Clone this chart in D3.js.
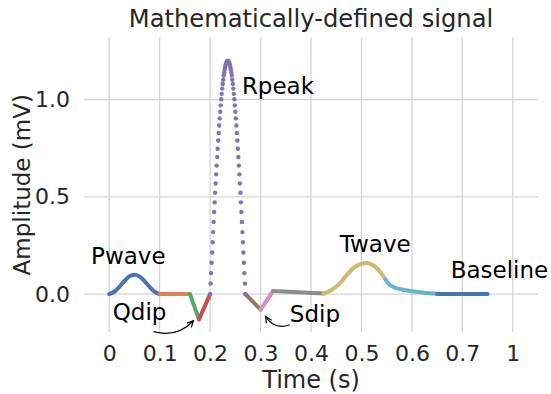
<!DOCTYPE html>
<html>
<head>
<meta charset="utf-8">
<script src="https://cdn.jsdelivr.net/npm/d3@7/dist/d3.min.js"></script>
<style>
  html, body { margin: 0; padding: 0; background: #ffffff; }
  svg { display: block; font-family: "DejaVu Sans", sans-serif; }
</style>
</head>
<body>
<svg id="chart" width="551" height="394"></svg>
<script>
// ---- Signal pieces (time in s, amplitude in mV) ----
const pWaveTime = [0, 0.01, 0.02, 0.03, 0.04, 0.05, 0.06, 0.07, 0.08, 0.09, 0.1];
const pWaveAmp  = [0, 0.012, 0.037, 0.067, 0.091, 0.1, 0.091, 0.067, 0.037, 0.012, 0];

const prTime = [0.1, 0.16];
const prAmp  = [0, 0];

const qDownTime = [0.16, 0.178];
const qDownAmp  = [0, -0.13];

const qUpTime = [0.178, 0.2];
const qUpAmp  = [-0.13, 0];

// R peak, sampled every millisecond
const rPeakTime = [
  0.200, 0.201, 0.202, 0.203, 0.204, 0.205, 0.206, 0.207, 0.208, 0.209,
  0.210, 0.211, 0.212, 0.213, 0.214, 0.215, 0.216, 0.217, 0.218, 0.219,
  0.220, 0.221, 0.222, 0.223, 0.224, 0.225, 0.226, 0.227, 0.228, 0.229,
  0.230, 0.231, 0.232, 0.233, 0.234, 0.235, 0.236, 0.237, 0.238, 0.239,
  0.240, 0.241, 0.242, 0.243, 0.244, 0.245, 0.246, 0.247, 0.248, 0.249,
  0.250, 0.251, 0.252, 0.253, 0.254, 0.255, 0.256, 0.257, 0.258, 0.259,
  0.260, 0.261, 0.262, 0.263, 0.264, 0.265, 0.266, 0.267, 0.268, 0.269,
  0.270
];
const rPeakAmp = [
  0.000, 0.054, 0.108, 0.161, 0.214, 0.267, 0.319, 0.371, 0.422, 0.472,
  0.521, 0.569, 0.616, 0.661, 0.705, 0.748, 0.790, 0.829, 0.867, 0.904,
  0.938, 0.971, 1.002, 1.030, 1.057, 1.081, 1.103, 1.124, 1.141, 1.157,
  1.170, 1.181, 1.189, 1.195, 1.199, 1.200, 1.199, 1.195, 1.189, 1.181,
  1.170, 1.157, 1.141, 1.124, 1.103, 1.081, 1.057, 1.030, 1.002, 0.971,
  0.938, 0.904, 0.867, 0.829, 0.790, 0.748, 0.705, 0.661, 0.616, 0.569,
  0.521, 0.472, 0.422, 0.371, 0.319, 0.267, 0.214, 0.161, 0.108, 0.054,
  0.000
];

const sDownTime = [0.27, 0.3];
const sDownAmp  = [0, -0.08];

const sUpTime = [0.3, 0.325];
const sUpAmp  = [-0.08, 0.016];

const stTime = [0.325, 0.425];
const stAmp  = [0.016, 0.003];

const tWaveTime = [0.425, 0.44, 0.455, 0.47, 0.485, 0.5, 0.51, 0.52, 0.53, 0.54, 0.548];
const tWaveAmp  = [0.003, 0.02, 0.05, 0.095, 0.136, 0.157, 0.16, 0.153, 0.134, 0.104, 0.074];

const tDecayTime = [0.548, 0.555, 0.565, 0.58, 0.6, 0.625, 0.65];
const tDecayAmp  = [0.074, 0.05, 0.035, 0.024, 0.015, 0.007, 0.002];

const baselineTime = [0.65, 0.75];
const baselineAmp  = [0, 0];

// ---- Axis ticks ----
const xTickValues = [0, 0.1, 0.2, 0.3, 0.4, 0.5, 0.6, 0.7, 0.8];
const xTickLabels = ["0", "0.1", "0.2", "0.3", "0.4", "0.5", "0.6", "0.7", "1"];
const yTickValues = [0, 0.5, 1.0];
const yTickLabels = ["0.0", "0.5", "1.0"];

// ---- Annotation names ----
const waveNames = ["Pwave", "Qdip", "Rpeak", "Sdip", "Twave", "Baseline"];

// seaborn "deep" palette
const palette = ["#4c72b0", "#dd8452", "#55a868", "#c44e52", "#8172b3",
                 "#937860", "#da8bc3", "#8c8c8c", "#ccb974", "#64b5cd"];

const zip = (t, a) => t.map((d, i) => ({ t: d, a: a[i] }));

const lineSegments = [
  { pts: zip(pWaveTime, pWaveAmp), color: palette[0] },
  { pts: zip(prTime, prAmp), color: palette[1] },
  { pts: zip(qDownTime, qDownAmp), color: palette[2] },
  { pts: zip(qUpTime, qUpAmp), color: palette[3] },
  { pts: zip(sDownTime, sDownAmp), color: palette[5] },
  { pts: zip(sUpTime, sUpAmp), color: palette[6] },
  { pts: zip(stTime, stAmp), color: palette[7] },
  { pts: zip(tWaveTime, tWaveAmp), color: palette[8] },
  { pts: zip(tDecayTime, tDecayAmp), color: palette[9] },
  { pts: zip(baselineTime, baselineAmp), color: palette[0] }
];
const rPeakPts = zip(rPeakTime, rPeakAmp);

// ---- Layout ----
const svg = d3.select("#chart");
const plot = { left: 84, right: 538, top: 37.5, bottom: 332 };

const x = d3.scaleLinear().domain([-0.05, 0.85]).range([plot.left, plot.right]);
const y = d3.scaleLinear().domain([-0.195, 1.32]).range([plot.bottom, plot.top]);

const textColor = "#262626";
const gridColor = "#d4d4d4";

// grid
const grid = svg.append("g");
grid.selectAll("line.vx").data(xTickValues).join("line")
  .attr("x1", d => x(d)).attr("x2", d => x(d))
  .attr("y1", plot.top).attr("y2", plot.bottom)
  .attr("stroke", gridColor).attr("stroke-width", 1.3);
grid.selectAll("line.hy").data(yTickValues).join("line")
  .attr("y1", d => y(d)).attr("y2", d => y(d))
  .attr("x1", plot.left).attr("x2", plot.right)
  .attr("stroke", gridColor).attr("stroke-width", 1.3);

// axes (labels only, no spines)
const xAxis = d3.axisBottom(x).tickValues(xTickValues)
  .tickFormat((d, i) => xTickLabels[i]).tickSize(0).tickPadding(13);
const gx = svg.append("g").attr("transform", `translate(0,${plot.bottom})`).call(xAxis);
gx.select(".domain").remove();
gx.selectAll("text").attr("font-size", 22).attr("fill", textColor)
  .attr("font-family", "DejaVu Sans");

const yAxis = d3.axisLeft(y).tickValues(yTickValues)
  .tickFormat((d, i) => yTickLabels[i]).tickSize(0).tickPadding(14);
const gy = svg.append("g").attr("transform", `translate(${plot.left},0)`).call(yAxis);
gy.select(".domain").remove();
gy.selectAll("text").attr("font-size", 22).attr("fill", textColor)
  .attr("font-family", "DejaVu Sans");

// axis titles
svg.append("text")
  .attr("x", (plot.left + plot.right) / 2).attr("y", 388)
  .attr("text-anchor", "middle").attr("font-size", 24).attr("fill", textColor)
  .text("Time (s)");
svg.append("text")
  .attr("transform", `translate(30,${(plot.top + plot.bottom) / 2}) rotate(-90)`)
  .attr("text-anchor", "middle").attr("font-size", 23).attr("fill", textColor)
  .text("Amplitude (mV)");
svg.append("text")
  .attr("x", (plot.left + plot.right) / 2).attr("y", 26.5)
  .attr("text-anchor", "middle").attr("font-size", 24.2).attr("fill", textColor)
  .text("Mathematically-defined signal");

// signal segments
const line = d3.line().x(d => x(d.t)).y(d => y(d.a)).curve(d3.curveCatmullRom);
const gLines = svg.append("g");
lineSegments.forEach(seg => {
  gLines.append("path")
    .attr("d", line(seg.pts))
    .attr("fill", "none")
    .attr("stroke", seg.color)
    .attr("stroke-width", 4)
    .attr("stroke-linecap", "round")
    .attr("stroke-linejoin", "round");
});

// R peak drawn as sample dots
svg.append("g").selectAll("circle").data(rPeakPts).join("circle")
  .attr("cx", d => x(d.t)).attr("cy", d => y(d.a))
  .attr("r", 2.2).attr("fill", palette[4]);

// ---- Annotations ----
const labelAnchors = [
  { t: -0.036, a: 0.155 },  // Pwave
  { t: 0.007, a: -0.134 },  // Qdip
  { t: 0.263, a: 1.03 },    // Rpeak
  { t: 0.358, a: -0.142 },  // Sdip
  { t: 0.457, a: 0.218 },   // Twave
  { t: 0.677, a: 0.081 }    // Baseline
];
svg.append("g").selectAll("text").data(waveNames).join("text")
  .attr("x", (d, i) => x(labelAnchors[i].t))
  .attr("y", (d, i) => y(labelAnchors[i].a))
  .attr("font-size", 23).attr("fill", "#000")
  .text(d => d);

// curved arrows pointing at the Q and S dips
const arrows = [
  { from: { t: 0.088, a: -0.193 }, to: { t: 0.167, a: -0.137 }, rad: 0.3 },
  { from: { t: 0.358, a: -0.158 }, to: { t: 0.310, a: -0.115 }, rad: -0.4 }
];
const gArrows = svg.append("g");
arrows.forEach(ar => {
  const x0 = x(ar.from.t), y0 = y(ar.from.a);
  const x2 = x(ar.to.t), y2 = y(ar.to.a);
  const dx = x2 - x0, dy = y2 - y0;
  const cx = (x0 + x2) / 2 - ar.rad * dy;
  const cy = (y0 + y2) / 2 + ar.rad * dx;
  gArrows.append("path")
    .attr("d", `M${x0},${y0} Q${cx},${cy} ${x2},${y2}`)
    .attr("fill", "none").attr("stroke", "#000").attr("stroke-width", 1.2);
  const ang = Math.atan2(y2 - cy, x2 - cx);
  const len = 7, spread = 0.45;
  const h1 = [x2 - len * Math.cos(ang - spread), y2 - len * Math.sin(ang - spread)];
  const h2 = [x2 - len * Math.cos(ang + spread), y2 - len * Math.sin(ang + spread)];
  gArrows.append("path")
    .attr("d", `M${h1[0]},${h1[1]} L${x2},${y2} L${h2[0]},${h2[1]}`)
    .attr("fill", "none").attr("stroke", "#000").attr("stroke-width", 1.2)
    .attr("stroke-linejoin", "miter");
});
</script>
</body>
</html>
